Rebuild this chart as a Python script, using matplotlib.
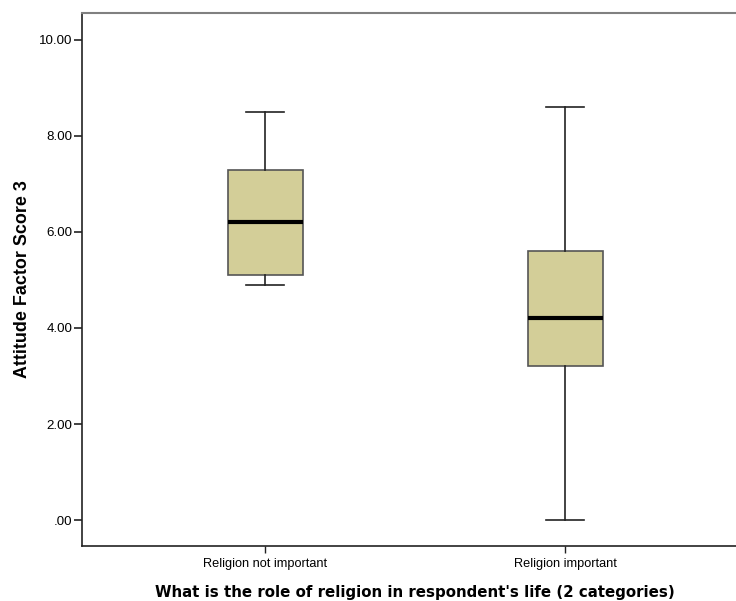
import matplotlib.pyplot as plt
from matplotlib.ticker import FuncFormatter

categories = ['Religion not important', 'Religion important']
whisker_low = [4.9, 0.0]
q1 = [5.1, 3.2]
medians = [6.2, 4.2]
q3 = [7.3, 5.6]
whisker_high = [8.5, 8.6]
y_ticks = [0, 2, 4, 6, 8, 10]


def fmt_tick(v, pos):
    s = '%.2f' % v
    return s[1:] if s.startswith('0') else s


stats = []
for i, name in enumerate(categories):
    stats.append({
        'label': name,
        'whislo': whisker_low[i],
        'q1': q1[i],
        'med': medians[i],
        'q3': q3[i],
        'whishi': whisker_high[i],
        'fliers': [],
    })

fig = plt.figure(figsize=(7.36, 6.01), dpi=100)
ax = fig.add_axes([82 / 736, 55 / 601, 654 / 736, 533 / 601])

bp = ax.bxp(stats, positions=[1, 2], widths=0.25, patch_artist=True,
            showfliers=False,
            boxprops=dict(facecolor='#d3ce98', edgecolor='#555555', linewidth=1.2),
            medianprops=dict(color='black', linewidth=3),
            whiskerprops=dict(color='#222222', linewidth=1.2),
            capprops=dict(color='#222222', linewidth=1.2),
            capwidths=0.127)

ax.set_xlim(0.39, 2.57)
ax.set_ylim(-0.54, 10.56)
ax.set_yticks(y_ticks)
ax.yaxis.set_major_formatter(FuncFormatter(fmt_tick))
ax.set_xticks([1, 2])
ax.set_xticklabels(categories)

ax.spines['right'].set_visible(False)
ax.spines['top'].set_color('#808080')
ax.spines['top'].set_linewidth(1.5)
ax.spines['left'].set_color('#222222')
ax.spines['bottom'].set_color('#222222')
ax.spines['left'].set_linewidth(1.2)
ax.spines['bottom'].set_linewidth(1.2)

ax.tick_params(axis='y', direction='out', length=6, width=1.2, color='#222222',
               labelsize=9.6, pad=1)
ax.tick_params(axis='x', direction='out', length=5, width=1, color='#222222',
               labelsize=9.2, pad=4)
for lab in ax.get_xticklabels() + ax.get_yticklabels():
    lab.set_family('Liberation Sans')

ax.set_ylabel('Attitude Factor Score 3', fontsize=12.9, fontweight='bold',
              family='Liberation Sans', labelpad=5.5)
ax.set_xlabel("What is the role of religion in respondent's life (2 categories)",
              fontsize=10.8, fontweight='bold', family='DejaVu Sans', labelpad=12)
ax.xaxis.set_label_coords(0.509, -0.088)
ax.xaxis.label.set_va('center')

fig.savefig('out.png', dpi=100)
